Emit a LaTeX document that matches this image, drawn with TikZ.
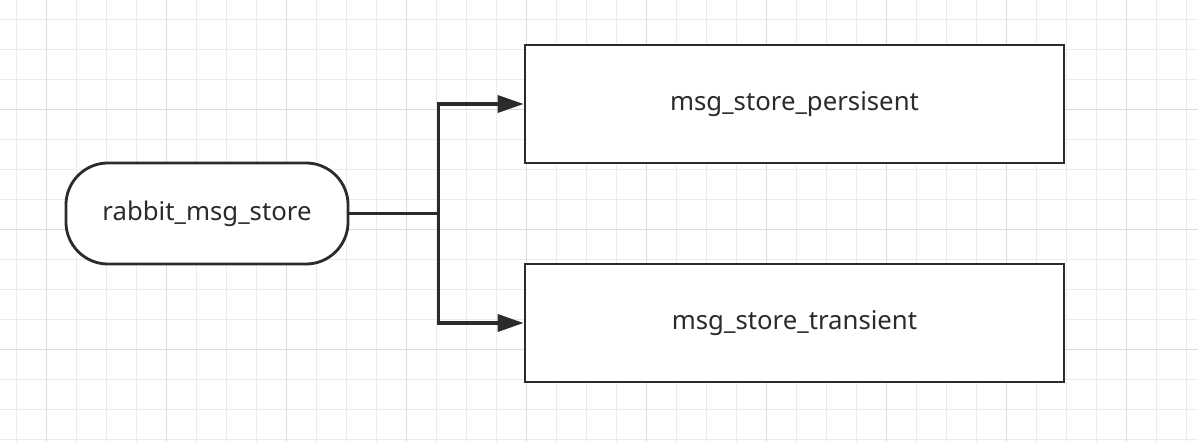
\documentclass[tikz,border=0pt]{standalone}
\usepackage{fontspec}
\setmainfont{Noto Sans}
\usetikzlibrary{arrows.meta,calc}
\definecolor{linie}{HTML}{2B2B2B}
\definecolor{gitterl}{HTML}{EBEBEB}
\definecolor{gitterd}{HTML}{DCDCDC}
\tikzset{
  pfeil/.style={-{Triangle[length=0.65cm,width=0.43cm]},linie,line width=2.2pt},
  kasten/.style={draw=linie,line width=1.9pt,fill=white,minimum width=13.475cm,minimum height=2.95cm,inner sep=0pt},
  pille/.style={draw=linie,line width=2pt,fill=white,rounded corners=1.05cm,minimum width=7.05cm,minimum height=2.525cm,inner sep=0pt},
  schrift/.style={font=\fontsize{18.3}{22}\selectfont,text=linie},
}

\begin{document}
\begin{tikzpicture}[x=0.025cm,y=-0.025cm]
  \useasboundingbox (0,0) rectangle (1198,442);
  % --- Raster ---
  \fill[white] (0,0) rectangle (1198,442);
  \foreach \gx in {16,46,...,1186} \draw[gitterl,line width=0.6pt] (\gx,0)--(\gx,442);
  \foreach \gy in {19,49,...,439} \draw[gitterl,line width=0.6pt] (0,\gy)--(1198,\gy);
  \foreach \gx in {46,166,...,1186} \draw[gitterd,line width=0.6pt] (\gx,0)--(\gx,442);
  \foreach \gy in {109,229,...,439} \draw[gitterd,line width=0.6pt] (0,\gy)--(1198,\gy);
  % --- Knoten ---
  \node[pille,schrift] (store) at (207,213.5) {rabbit\_msg\_store};
  \node[kasten,schrift] (pers) at (794.5,104) {msg\_store\_persisent};
  \node[kasten,schrift] (trans) at (794.5,323) {msg\_store\_transient};
  % --- Verbindungen ---
  \coordinate (gabel) at ($(store.east)+(89,0)$);
  \draw[linie,line width=2.2pt] (store.east)--(gabel);
  \draw[pfeil] (gabel) |- (pers.west);
  \draw[pfeil] (gabel) |- (trans.west);
\end{tikzpicture}
\end{document}
